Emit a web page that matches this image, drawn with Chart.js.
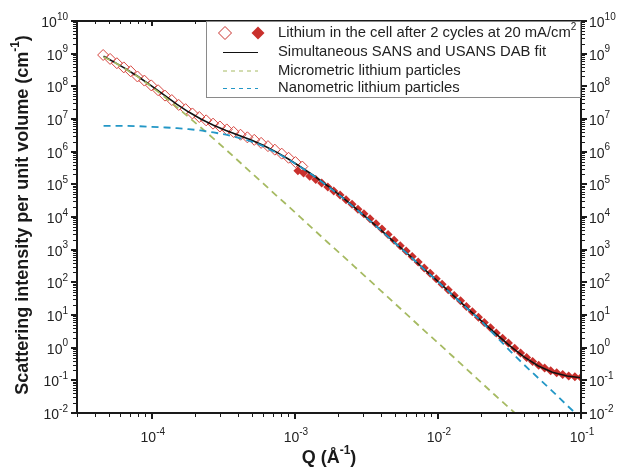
<!DOCTYPE html>
<html>
<head>
<meta charset="utf-8">
<script src="https://cdn.jsdelivr.net/npm/chart.js@4.4.1/dist/chart.umd.min.js"></script>
<style>
  html, body { margin: 0; padding: 0; background: #fff; }
  #wrap { width: 621px; height: 468px; }
</style>
</head>
<body>
<div id="wrap"><canvas id="chart" width="621" height="468"></canvas></div>
<script>
// USANS points (open diamonds)
const qOpen = [4.57e-5, 5.11e-5, 5.70e-5, 6.37e-5, 7.11e-5, 7.94e-5, 8.87e-5, 9.91e-5, 1.107e-4, 1.236e-4,
  1.38e-4, 1.542e-4, 1.722e-4, 1.923e-4, 2.148e-4, 2.399e-4, 2.679e-4, 2.992e-4, 3.342e-4, 3.733e-4,
  4.169e-4, 4.656e-4, 5.2e-4, 5.808e-4, 6.486e-4, 7.244e-4, 8.091e-4, 9.036e-4, 1.009e-3, 1.127e-3];
const iOpen = [9.1e8, 6.9e8, 5.1e8, 3.8e8, 2.9e8, 2.0e8, 1.5e8, 1.07e8, 7.6e7, 5.2e7,
  3.8e7, 2.7e7, 2.0e7, 1.48e7, 1.15e7, 9.1e6, 7.2e6, 5.9e6, 4.8e6, 4.0e6,
  3.3e6, 2.75e6, 2.3e6, 1.86e6, 1.48e6, 1.15e6, 8.7e5, 6.5e5, 4.8e5, 3.5e5];

// SANS points (filled diamonds)
const qFilled = [1.05e-3, 1.15e-3, 1.27e-3, 1.40e-3, 1.54e-3, 1.70e-3, 1.87e-3, 2.07e-3, 2.28e-3, 2.51e-3,
  2.76e-3, 3.04e-3, 3.35e-3, 3.69e-3, 4.06e-3, 4.48e-3, 4.94e-3, 5.45e-3, 6.00e-3, 6.61e-3,
  7.28e-3, 8.02e-3, 8.83e-3, 9.73e-3, 1.07e-2, 1.18e-2, 1.30e-2, 1.44e-2, 1.58e-2, 1.74e-2,
  1.92e-2, 2.11e-2, 2.33e-2, 2.56e-2, 2.83e-2, 3.11e-2, 3.44e-2, 3.78e-2, 4.17e-2, 4.59e-2,
  5.06e-2, 5.57e-2, 6.14e-2, 6.76e-2, 7.45e-2, 8.20e-2, 9.06e-2, 9.98e-2];
const iFilled = [2.6e5, 2.24e5, 1.78e5, 1.41e5, 1.10e5, 8.3e4, 6.3e4, 4.7e4, 3.4e4, 2.45e4,
  1.74e4, 1.26e4, 8.9e3, 6.2e3, 4.3e3, 2.9e3, 1.95e3, 1.32e3, 912, 617,
  417, 275, 191, 129, 87, 59, 39.8, 27.5, 18.2, 12.6,
  8.5, 5.9, 4.07, 2.82, 1.95, 1.38, 0.955, 0.69, 0.50, 0.38,
  0.29, 0.24, 0.195, 0.17, 0.151, 0.135, 0.129, 0.123];

// fit curves
const qFit = [4.6e-5, 5.5e-5, 6.5e-5, 8e-5, 1e-4, 1.25e-4, 1.5e-4, 1.8e-4, 2.2e-4, 2.7e-4,
  3.3e-4, 4e-4, 5e-4, 6e-4, 7.5e-4, 9e-4, 1.1e-3, 1.35e-3, 1.7e-3, 2.1e-3,
  2.6e-3, 3.2e-3, 4e-3, 5e-3, 6.3e-3, 8e-3, 1e-2, 1.25e-2, 1.6e-2, 2e-2,
  2.5e-2, 3.2e-2, 4e-2, 5e-2, 6.3e-2, 8e-2, 1e-1];
const iFit = [8.3e8, 5.43e8, 3.55e8, 2.0e8, 1.01e8, 5.0e7, 2.82e7, 1.66e7, 1.0e7, 6.46e6,
  4.47e6, 3.24e6, 2.24e6, 1.58e6, 9.5e5, 5.96e5, 3.39e5, 1.86e5, 8.9e4, 4.37e4,
  2.0e4, 9.2e3, 3.98e3, 1.64e3, 676, 254, 107, 43.7, 16.2, 6.76,
  2.82, 1.12, 0.525, 0.28, 0.178, 0.135, 0.12];
const iMicro = [7.94e8, 5.37e8, 3.47e8, 1.95e8, 9.55e7, 4.47e7, 2.29e7, 1.17e7, 5.5e6, 2.51e6,
  1.15e6, 5.37e5, 2.19e5, 1.07e5, 4.37e4, 2.14e4, 9.55e3, 4.17e3, 1.66e3, 724,
  309, 135, 55, 22.4, 8.9, 3.39, 1.41, 0.575, 0.214, 0.087,
  0.0355, 0.0135, 0.0055];
const iNano = [6.17e6, 6.17e6, 6.17e6, 6.03e6, 5.75e6, 5.5e6, 5.25e6, 4.9e6, 4.47e6, 3.89e6,
  3.31e6, 2.69e6, 2.04e6, 1.48e6, 9.1e5, 5.75e5, 3.31e5, 1.82e5, 8.7e4, 4.27e4,
  1.95e4, 9.1e3, 3.89e3, 1.62e3, 661, 251, 105, 42.7, 15.8, 6.6,
  2.4, 0.79, 0.30, 0.12, 0.047, 0.017, 0.0069];

// axis ticks (decade exponents)
const xExps = [-4, -3, -2, -1];
const yExps = [-2, -1, 0, 1, 2, 3, 4, 5, 6, 7, 8, 9, 10];

const RED = '#c9302c';
const GREEN = '#a6ba62';
const BLUE = '#2397c6';
const FONT = '"Liberation Sans", Arial, Helvetica, sans-serif';

function pts(qs, is) {
  return is.map((v, k) => ({ x: qs[k], y: v }));
}

// "10" with a raised exponent
function drawPow(ctx, exp, x, y, align) {
  ctx.font = '14px ' + FONT;
  const wb = ctx.measureText('10').width;
  ctx.font = '10px ' + FONT;
  const we = ctx.measureText(String(exp)).width;
  const w = wb + we;
  let x0 = align === 'center' ? x - w / 2 : (align === 'right' ? x - w : x);
  ctx.textAlign = 'left';
  ctx.textBaseline = 'middle';
  ctx.font = '14px ' + FONT;
  ctx.fillText('10', x0, y);
  ctx.font = '10px ' + FONT;
  ctx.fillText(String(exp), x0 + wb, y - 6);
}

// text with superscript part, returns width; draws starting at x0
function supText(ctx, parts, x0, y, size, supSize, bold, measureOnly) {
  let x = x0;
  const b = bold ? 'bold ' : '';
  parts.forEach(p => {
    const s = p.sup ? supSize : size;
    ctx.font = b + s + 'px ' + FONT;
    if (!measureOnly) ctx.fillText(p.t, x, p.sup ? y - size * 0.38 : y);
    x += ctx.measureText(p.t).width;
  });
  return x - x0;
}

const axesPlugin = {
  id: 'axes',
  afterDatasetsDraw(chart) {
    const { ctx, chartArea: a, scales } = chart;
    const xs = scales.x, ys = scales.y;
    ctx.save();
    ctx.strokeStyle = '#1a1a1a';
    ctx.fillStyle = '#222';

    // minor + major ticks
    ctx.lineWidth = 1;
    ctx.beginPath();
    for (let e = -5; e <= -2; e++) {
      for (let m = 2; m <= 9; m++) {
        const v = m * Math.pow(10, e);
        if (v < xs.min || v > xs.max) continue;
        const px = Math.round(xs.getPixelForValue(v)) + 0.5;
        ctx.moveTo(px, a.bottom); ctx.lineTo(px, a.bottom + 4);
        ctx.moveTo(px, a.top); ctx.lineTo(px, a.top + 3);
      }
    }
    for (let e = -2; e <= 9; e++) {
      for (let m = 2; m <= 9; m++) {
        const v = m * Math.pow(10, e);
        const py = Math.round(ys.getPixelForValue(v)) + 0.5;
        ctx.moveTo(a.left, py); ctx.lineTo(a.left - 4, py);
        ctx.moveTo(a.right, py); ctx.lineTo(a.right + 4, py);
      }
    }
    ctx.stroke();

    ctx.lineWidth = 2;
    ctx.beginPath();
    xExps.forEach(e => {
      const px = Math.round(xs.getPixelForValue(Math.pow(10, e)));
      ctx.moveTo(px, a.bottom); ctx.lineTo(px, a.bottom + 6);
      ctx.moveTo(px, a.top); ctx.lineTo(px, a.top + 5);
    });
    yExps.forEach(e => {
      const py = Math.round(ys.getPixelForValue(Math.pow(10, e)));
      ctx.moveTo(a.left, py); ctx.lineTo(a.left - 6, py);
      ctx.moveTo(a.right, py); ctx.lineTo(a.right + 6, py);
    });
    ctx.stroke();

    // frame
    ctx.lineWidth = 2;
    ctx.strokeRect(a.left, a.top, a.right - a.left, a.bottom - a.top);

    // tick labels
    xExps.forEach(e => {
      const px = xs.getPixelForValue(Math.pow(10, e));
      drawPow(ctx, e, px + 1, a.bottom + 25, 'center');
    });
    yExps.forEach(e => {
      const py = ys.getPixelForValue(Math.pow(10, e));
      drawPow(ctx, e, a.left - 9, py + 2, 'right');
      drawPow(ctx, e, a.right + 8, py + 2, 'left');
    });

    // axis titles
    ctx.fillStyle = '#1a1a1a';
    ctx.textBaseline = 'middle';
    ctx.textAlign = 'left';
    const xt = [{ t: 'Q (\u00c5' }, { t: '-1', sup: true }, { t: ')' }];
    const wx = supText(ctx, xt, 0, 0, 18, 12, true, true);
    supText(ctx, xt, (a.left + a.right) / 2 - wx / 2, 458, 18, 12, true, false);

    const yt = [{ t: 'Scattering intensity per unit volume (cm' }, { t: '-1', sup: true }, { t: ')' }];
    ctx.save();
    ctx.translate(23, (a.top + a.bottom) / 2 - 2);
    ctx.rotate(-Math.PI / 2);
    const wy = supText(ctx, yt, 0, 0, 18, 12, true, true);
    supText(ctx, yt, -wy / 2, 0, 18, 12, true, false);
    ctx.restore();

    ctx.restore();
  }
};

function diamond(ctx, x, y, r, filled) {
  ctx.beginPath();
  ctx.moveTo(x, y - r); ctx.lineTo(x + r, y); ctx.lineTo(x, y + r); ctx.lineTo(x - r, y);
  ctx.closePath();
  if (filled) { ctx.fillStyle = RED; ctx.fill(); }
  else { ctx.strokeStyle = RED; ctx.lineWidth = 1; ctx.stroke(); }
}

const legendPlugin = {
  id: 'boxLegend',
  afterDraw(chart) {
    const { ctx, chartArea: a } = chart;
    ctx.save();
    const bx = 206, by = a.top, bw = a.right - 206, bh = 77;
    ctx.fillStyle = '#fff';
    ctx.fillRect(bx, by, bw, bh);
    ctx.strokeStyle = '#8a8a8a';
    ctx.lineWidth = 1;
    ctx.strokeRect(bx + 0.5, by + 0.5, bw - 1, bh - 1);

    const rows = [33, 52, 70.5, 88];
    const x1 = 223, x2 = 258, tx = 278;
    diamond(ctx, 225, rows[0], 6.5, false);
    diamond(ctx, 258, rows[0], 6.5, true);

    ctx.lineWidth = 1.2;
    ctx.strokeStyle = '#111';
    ctx.beginPath(); ctx.moveTo(x1, rows[1] + 0.5); ctx.lineTo(x2, rows[1] + 0.5); ctx.stroke();
    ctx.setLineDash([4, 4]);
    ctx.lineWidth = 1;
    ctx.strokeStyle = GREEN;
    ctx.beginPath(); ctx.moveTo(x1, rows[2] + 0.5); ctx.lineTo(x2, rows[2] + 0.5); ctx.stroke();
    ctx.strokeStyle = BLUE;
    ctx.beginPath(); ctx.moveTo(x1, rows[3] + 0.5); ctx.lineTo(x2, rows[3] + 0.5); ctx.stroke();
    ctx.setLineDash([]);

    ctx.fillStyle = '#222';
    ctx.textBaseline = 'middle';
    ctx.textAlign = 'left';
    supText(ctx, [{ t: 'Lithium in the cell after 2 cycles at 20 mA/cm' }, { t: '2', sup: true }], tx, rows[0], 14.8, 10, false, false);
    ctx.font = '14.8px ' + FONT;
    ctx.fillText('Simultaneous SANS and USANS DAB fit', tx, rows[1]);
    ctx.fillText('Micrometric lithium particles', tx, rows[2]);
    ctx.fillText('Nanometric lithium particles', tx, rows[3]);
    ctx.restore();
  }
};

const ctx = document.getElementById('chart');
new Chart(ctx, {
  type: 'scatter',
  data: {
    datasets: [
      {
        label: 'Nanometric lithium particles',
        data: pts(qFit, iNano),
        showLine: true,
        borderColor: BLUE,
        borderWidth: 1.8,
        borderDash: [7, 5],
        pointRadius: 0,
        order: 1
      },
      {
        label: 'Micrometric lithium particles',
        data: pts(qFit, iMicro),
        showLine: true,
        borderColor: GREEN,
        borderWidth: 1.8,
        borderDash: [7, 5],
        pointRadius: 0,
        order: 2
      },
      {
        label: 'Simultaneous SANS and USANS DAB fit',
        data: pts(qFit, iFit),
        showLine: true,
        borderColor: '#111',
        borderWidth: 1.6,
        pointRadius: 0,
        order: 3
      },
      {
        label: 'SANS',
        data: pts(qFilled, iFilled),
        pointStyle: 'rectRot',
        pointRadius: 4.5,
        backgroundColor: RED,
        borderColor: RED,
        borderWidth: 0,
        order: 4
      },
      {
        label: 'USANS',
        data: pts(qOpen, iOpen),
        pointStyle: 'rectRot',
        pointRadius: 5.5,
        backgroundColor: 'rgba(0,0,0,0)',
        borderColor: '#d6453f',
        borderWidth: 1,
        order: 5
      }
    ]
  },
  options: {
    responsive: false,
    animation: false,
    layout: { padding: { left: 77, right: 40, top: 21, bottom: 55 } },
    plugins: { legend: { display: false }, tooltip: { enabled: false } },
    scales: {
      x: { type: 'logarithmic', min: 3e-5, max: 0.1, display: false },
      y: { type: 'logarithmic', min: 1e-2, max: 1e10, display: false }
    }
  },
  plugins: [axesPlugin, legendPlugin]
});
</script>
</body>
</html>
